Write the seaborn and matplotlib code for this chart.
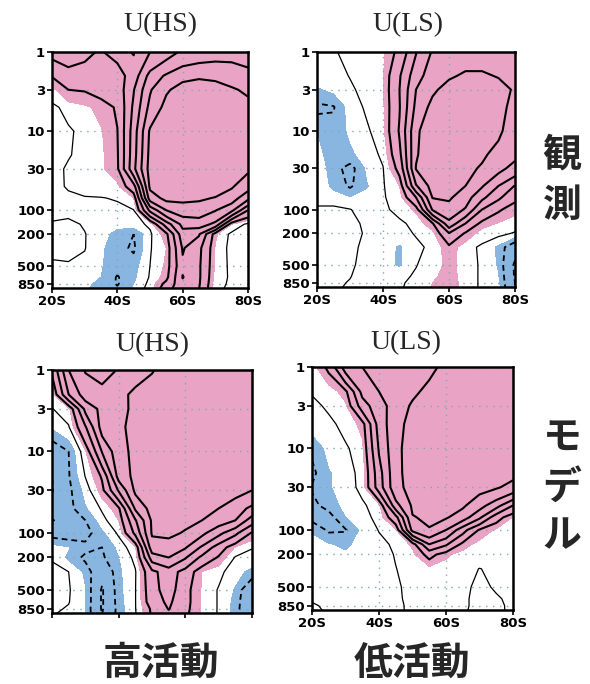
import numpy as np
import matplotlib
matplotlib.use("Agg")
import matplotlib.pyplot as plt
from matplotlib.ticker import NullLocator, FixedLocator, FixedFormatter
import seaborn as sns

# ---------------- data ----------------
LATS = [20, 25, 30, 35, 40, 45, 50, 55, 60, 65, 70, 75, 80]
LEVELS = [1, 2, 3, 5, 10, 20, 30, 50, 70, 100, 150, 200, 300, 500, 700, 850, 1000]

OBS_HS = [
    [4.6, 4.5, 4.2, 3.9, 4.5, 3.9, 6.0, 7.2, 8.3, 8.9, 9.2, 9.3, 9.2],
    [2.1, 3.6, 3.6, 3.4, 3.2, 4.9, 8.7, 10.3, 11.6, 11.8, 11.7, 11.3, 10.6],
    [0.7, 2.0, 2.1, 2.6, 2.8, 5.9, 9.8, 11.8, 12.6, 12.8, 12.6, 12.2, 11.7],
    [-0.3, 0.4, 0.8, 1.3, 2.2, 6.4, 10.6, 12.6, 13.2, 13.4, 13.3, 13.0, 12.6],
    [-0.6, -0.2, 0.4, 0.9, 1.95, 7.0, 12.3, 13.4, 13.8, 13.9, 13.8, 13.5, 13.0],
    [-0.6, -0.1, 0.4, 0.8, 1.8, 7.2, 12.6, 13.5, 13.8, 13.8, 13.6, 13.2, 12.7],
    [-0.5, 0.2, 0.5, 0.8, 1.7, 7.5, 12.8, 13.5, 13.7, 13.6, 13.3, 12.9, 12.3],
    [-0.3, 0.1, 0.5, 0.6, 0.7, 3.2, 12.4, 13.2, 13.4, 13.3, 13.0, 12.2, 10.8],
    [-0.5, -0.2, -0.1, -0.05, 0.1, 1.0, 11.0, 12.6, 12.5, 12.3, 11.9, 11.0, 8.6],
    [-0.6, -0.3, -0.3, -0.4, -0.3, -0.05, 6.5, 10.0, 11.0, 11.0, 10.1, 8.5, 4.0],
    [0.2, 0.25, -0.1, -0.5, -0.7, -0.4, 0.2, 5.0, 8.6, 9.0, 7.5, 1.0, -0.3],
    [0.3, 0.35, 0.05, -0.6, -1.3, -2.0, -0.2, 1.6, 7.2, 6.2, 1.2, -0.3, -0.5],
    [0.3, 0.4, 0.05, -0.8, -1.6, -2.2, -0.1, 1.0, 6.2, 4.5, 0.9, -0.4, -0.5],
    [-0.2, -0.15, -0.3, -0.9, -1.6, -1.4, 0.0, 1.2, 5.6, 4.3, 0.8, -0.3, -0.6],
    [-0.3, -0.4, -0.6, -1.0, -2.1, -1.2, 0.1, 1.5, 6.1, 4.3, 0.6, -0.2, -0.5],
    [-0.3, -0.4, -0.7, -1.3, -2.1, -1.0, 0.3, 2.5, 5.5, 4.2, 0.4, -0.2, -0.4],
    [-0.3, -0.5, -0.9, -1.3, -1.8, -0.8, 0.5, 3.0, 5.8, 4.0, 0.2, -0.2, -0.4],
]

OBS_LS = [
    [-0.4, -0.1, 0.3, 0.5, 0.8, 2.5, 5.9, 8.2, 9.0, 9.4, 9.4, 9.2, 9.0],
    [-0.6, -0.4, 0.05, 0.4, 0.9, 3.8, 7.2, 9.0, 9.8, 10.2, 10.2, 9.9, 9.5],
    [-1.1, -0.7, -0.2, 0.4, 0.9, 4.0, 8.0, 9.7, 10.6, 10.9, 10.9, 10.6, 9.8],
    [-2.3, -2.1, -0.5, 0.15, 0.8, 3.9, 8.5, 10.6, 11.2, 11.4, 11.3, 10.6, 9.4],
    [-1.0, -1.5, -0.8, -0.2, 0.7, 4.2, 9.6, 11.4, 11.8, 11.8, 11.5, 10.4, 8.8],
    [-0.8, -1.3, -1.2, -0.5, 0.2, 3.5, 9.8, 11.3, 11.6, 11.3, 10.4, 9.2, 8.5],
    [-0.3, -1.5, -2.5, -0.8, -0.05, 2.6, 10.1, 11.0, 11.0, 10.7, 9.7, 8.6, 7.3],
    [-0.4, -1.2, -2.2, -1.1, -0.1, 1.0, 7.8, 10.8, 10.6, 10.0, 8.2, 6.0, 3.9],
    [-0.4, -0.6, -0.9, -0.6, -0.1, 0.5, 4.0, 10.1, 10.3, 8.9, 6.5, 4.4, 2.4],
    [0.2, 0.3, 0.05, -0.5, -0.2, 0.3, 1.2, 8.2, 9.2, 7.8, 4.0, 2.2, 1.3],
    [0.2, 0.3, 0.3, -0.2, -0.5, -0.2, 0.3, 1.8, 7.5, 4.0, 1.5, 0.9, 0.5],
    [0.2, 0.3, 0.3, -0.1, -0.5, -0.4, 0.1, 0.6, 3.9, 1.8, 0.5, 0.3, -0.1],
    [0.2, 0.3, 0.2, -0.2, -0.6, -1.1, -0.3, 0.3, 1.6, 0.4, -0.2, -1.2, -3.3],
    [0.2, 0.3, 0.15, -0.3, -0.7, -1.1, -0.05, 0.5, 1.3, 0.6, -0.2, -1.1, -4.3],
    [0.15, 0.2, 0.03, -0.3, -0.5, -0.3, 0.15, 0.8, 1.4, 0.6, -0.2, -0.9, -4.2],
    [0.1, 0.15, -0.05, -0.3, -0.4, -0.15, 0.3, 1.0, 1.5, 0.6, -0.2, -0.8, -4.0],
    [0.1, 0.1, -0.1, -0.3, -0.35, -0.1, 0.35, 1.1, 1.5, 0.6, -0.2, -0.5, -4.1],
]

MODEL_HS = [
    [2.3, 8.0, 10.1, 10.6, 9.9, 9.5, 9.9, 10.6, 11.1, 11.4, 11.5, 11.6, 11.6],
    [0.5, 6.0, 9.0, 9.4, 9.6, 10.3, 10.8, 11.2, 11.5, 11.6, 11.7, 11.7, 11.7],
    [-0.05, 0.6, 6.5, 8.6, 9.3, 10.5, 11.0, 11.4, 11.6, 11.7, 11.8, 11.8, 11.8],
    [-0.8, -0.1, 3.8, 8.8, 9.6, 10.6, 11.1, 11.5, 11.7, 11.8, 11.8, 11.8, 11.8],
    [-3.3, -2.0, 0.8, 6.1, 9.3, 10.5, 11.1, 11.5, 11.7, 11.8, 11.8, 11.8, 11.6],
    [-4.0, -2.1, 0.05, 2.2, 8.8, 10.5, 11.0, 11.4, 11.6, 11.6, 11.5, 11.2, 10.8],
    [-4.1, -2.3, -0.6, 1.5, 6.2, 10.4, 10.9, 11.2, 11.4, 11.4, 11.1, 10.6, 10.0],
    [-3.5, -2.4, -1.1, 0.15, 1.7, 8.3, 10.8, 11.1, 11.2, 10.8, 10.0, 9.0, 7.5],
    [-4.1, -3.3, -2.0, -0.4, 1.0, 5.8, 10.3, 10.7, 10.5, 10.0, 9.0, 8.0, 5.0],
    [-2.6, -2.8, -2.5, -1.2, 0.2, 4.5, 10.2, 10.5, 9.8, 8.5, 6.6, 4.5, 1.8],
    [-0.5, -0.9, -1.6, -2.0, -0.7, 0.8, 9.2, 9.0, 8.2, 5.7, 3.0, 0.9, 0.05],
    [-0.1, -1.2, -2.3, -2.2, -1.0, 0.3, 7.0, 8.0, 6.2, 3.5, 1.8, -0.1, -0.3],
    [0.3, 0.0, -1.2, -3.5, -1.2, -0.1, 3.5, 5.0, 3.2, 0.9, 0.3, -0.6, -1.3],
    [0.4, 0.1, -0.9, -4.2, -1.3, -0.05, 3.2, 5.0, 2.5, 0.9, -0.1, -1.1, -3.5],
    [0.4, 0.05, -0.9, -4.2, -1.4, -0.05, 3.0, 4.4, 2.5, 0.9, -0.1, -1.3, -3.8],
    [0.2, -0.1, -1.0, -4.2, -1.5, -0.05, 2.3, 4.1, 2.4, 0.9, -0.1, -1.4, -3.8],
    [0.05, -0.2, -1.0, -4.0, -1.5, -0.1, 2.2, 3.6, 2.3, 0.8, -0.1, -1.4, -3.6],
]

MODEL_LS = [
    [0.5, 2.4, 7.0, 8.0, 8.4, 8.7, 9.0, 9.6, 10.4, 10.9, 11.2, 11.4, 11.4],
    [0.1, 0.3, 1.6, 6.6, 8.0, 8.7, 9.6, 10.5, 11.0, 11.3, 11.5, 11.6, 11.6],
    [-0.3, 0.2, 0.7, 5.0, 7.3, 8.8, 10.3, 10.9, 11.3, 11.5, 11.6, 11.7, 11.7],
    [-0.5, -0.3, 0.4, 1.3, 6.9, 9.3, 10.7, 11.2, 11.5, 11.6, 11.7, 11.7, 11.7],
    [-1.8, -0.6, -0.2, 0.7, 6.2, 9.5, 10.9, 11.4, 11.6, 11.7, 11.7, 11.7, 11.5],
    [-2.3, -1.1, -0.4, 0.3, 5.2, 9.5, 10.8, 11.2, 11.4, 11.4, 11.3, 11.0, 10.5],
    [-1.9, -1.1, -0.5, 0.3, 5.0, 9.4, 10.7, 11.1, 11.2, 11.0, 10.6, 10.2, 9.4],
    [-2.3, -1.6, -0.6, -0.2, 0.6, 7.3, 10.3, 10.8, 10.7, 10.3, 8.8, 6.8, 4.0],
    [-2.4, -2.5, -1.0, -0.35, 0.3, 3.3, 9.9, 10.3, 10.2, 9.0, 6.4, 2.8, 0.9],
    [-1.1, -2.2, -2.1, -0.7, 0.05, 0.8, 8.6, 9.9, 8.0, 4.8, 1.8, 0.8, 0.4],
    [-0.6, -0.9, -1.2, -0.6, -0.3, 0.2, 1.2, 6.0, 4.3, 1.5, 0.6, 0.4, 0.3],
    [-0.3, -0.5, -0.8, -0.6, -0.3, 0.05, 0.7, 2.6, 1.2, 0.6, 0.4, 0.3, 0.2],
    [-0.2, -0.3, -0.4, -0.4, -0.3, -0.02, 0.3, 0.6, 0.5, 0.3, -0.02, 0.15, 0.2],
    [-0.2, -0.2, -0.3, -0.3, -0.25, -0.1, 0.2, 0.4, 0.4, 0.2, -0.2, 0.1, 0.2],
    [-0.1, -0.2, -0.3, -0.3, -0.25, -0.1, 0.15, 0.35, 0.35, 0.15, -0.25, -0.1, 0.2],
    [0.1, -0.15, -0.3, -0.3, -0.25, -0.1, 0.1, 0.3, 0.3, 0.15, -0.25, -0.15, 0.15],
    [0.2, -0.1, -0.3, -0.3, -0.25, -0.1, 0.1, 0.3, 0.3, 0.1, -0.25, -0.15, 0.15],
]

PANEL_TITLES = ["U(HS)", "U(LS)", "U(HS)", "U(LS)"]
Y_TICKS = [1, 3, 10, 30, 100, 200, 500, 850]
Y_TICK_LABELS = ["1", "3", "10", "30", "100", "200", "500", "850"]
X_TICKS = [20, 40, 60, 80]
X_TICK_LABELS = ["20S", "40S", "60S", "80S"]
ROW_LABELS = ["観測", "モデル"]
COL_LABELS = ["高活動", "低活動"]

SHADE_LEVELS = [-100, -1, 1, 100]
POS_LEVELS = [2, 4, 6, 8, 10, 12]
NEG_LEVELS = [-4, -2]
ZERO_LEVEL = [0]

PINK = "#E9A3C4"
BLUE = "#88B6E0"
GRID_COLOR = "#7FA9B3"

# ---------------- styling ----------------
sns.set_theme(style="white")
plt.rcParams["font.family"] = ["DejaVu Sans"]
plt.rcParams["lines.dashed_pattern"] = [3.2, 2.2]

W, H = 590, 684
fig = plt.figure(figsize=(W / 100, H / 100), dpi=100)
fig.patch.set_facecolor("white")


def px_rect(x0, y0, x1, y1):
    return [x0 / W, 1 - y1 / H, (x1 - x0) / W, (y1 - y0) / H]


panels = [
    (OBS_HS, px_rect(52, 52, 248, 288), True),
    (OBS_LS, px_rect(317, 52, 515, 287), True),
    (MODEL_HS, px_rect(52, 370, 252, 613), False),
    (MODEL_LS, px_rect(312, 367, 513, 610), True),
]

X, Y = np.meshgrid(LATS, LEVELS)

for data, rect, show_x in panels:
    ax = fig.add_axes(rect)
    Z = np.array(data)
    ax.contourf(X, Y, Z, levels=SHADE_LEVELS, colors=[BLUE, (1, 1, 1, 0), PINK], zorder=0)
    ax.contour(X, Y, Z, levels=ZERO_LEVEL, colors="black", linewidths=0.9, zorder=3)
    ax.contour(X, Y, Z, levels=POS_LEVELS, colors="black", linewidths=1.5, zorder=3)
    ax.contour(X, Y, Z, levels=NEG_LEVELS, colors="black", linewidths=1.3,
               linestyles="dashed", zorder=3)
    ax.set_yscale("log")
    ax.set_ylim(960, 1)
    ax.set_xlim(20, 80)
    ax.yaxis.set_major_locator(FixedLocator(Y_TICKS))
    ax.yaxis.set_major_formatter(FixedFormatter(Y_TICK_LABELS))
    ax.yaxis.set_minor_locator(NullLocator())
    ax.xaxis.set_major_locator(FixedLocator(X_TICKS))
    if show_x:
        ax.xaxis.set_major_formatter(FixedFormatter(X_TICK_LABELS))
    else:
        ax.xaxis.set_major_formatter(FixedFormatter([""] * len(X_TICKS)))
    ax.xaxis.set_minor_locator(NullLocator())
    ax.set_axisbelow("line")
    ax.grid(True, color=GRID_COLOR, linestyle=(0, (1, 4)), linewidth=1.0)
    ax.tick_params(axis="both", which="major", direction="out", length=3.5, width=1.2,
                   colors="black", labelsize=9.5, pad=1.5,
                   left=True, bottom=True, top=False, right=False)
    for lab in ax.get_xticklabels() + ax.get_yticklabels():
        lab.set_fontweight("bold")
    for sp in ax.spines.values():
        sp.set_visible(True)
        sp.set_color("black")
        sp.set_linewidth(1.8)
        sp.set_zorder(5)
    ax.set_facecolor("white")

# panel titles
title_pos = [(160, 25), (408, 25), (152, 345), (406, 343)]
for (tx, ty), t in zip(title_pos, PANEL_TITLES):
    fig.text(tx / W, 1 - ty / H, t, ha="center", va="center",
             fontsize=20, family=["Liberation Serif", "DejaVu Serif"])

CJK = ["Noto Sans CJK JP", "DejaVu Sans"]
# row labels (vertical stacks)
row_pos = [[(562, 155), (562, 205)], [(562, 437), (562, 487), (562, 536)]]
for label, positions in zip(ROW_LABELS, row_pos):
    for ch, (cx, cy) in zip(label, positions):
        fig.text(cx / W, 1 - cy / H, ch, ha="center", va="center",
                 fontsize=28, family=CJK, fontweight="bold")

# column labels
col_pos = [(161, 663), (412, 663)]
for label, (cx, cy) in zip(COL_LABELS, col_pos):
    fig.text(cx / W, 1 - cy / H, label, ha="center", va="center",
             fontsize=28, family=CJK, fontweight="bold")

fig.savefig("out.png", dpi=100, facecolor="white")
